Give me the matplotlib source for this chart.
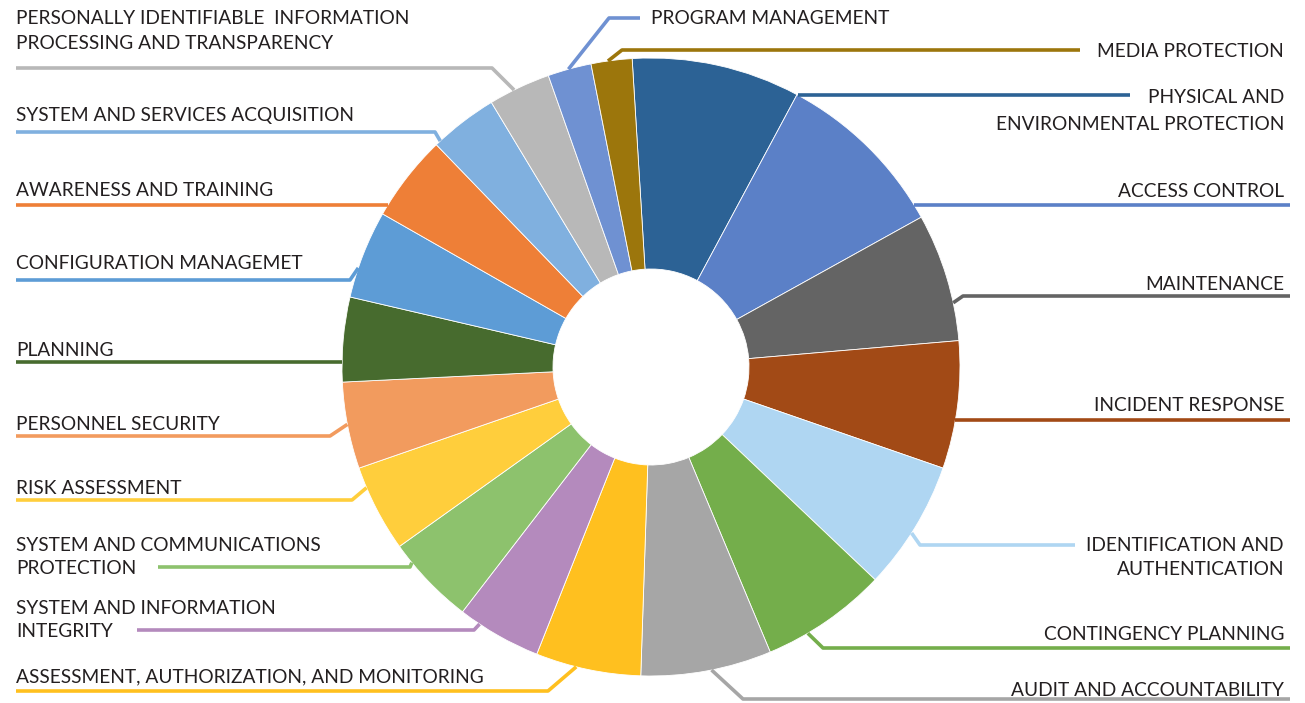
import numpy as np
import matplotlib
matplotlib.use("Agg")
import matplotlib.pyplot as plt

plt.rcParams['font.family'] = ['Lato', 'DejaVu Sans']

# slices, clockwise from the top
families = ["PE", "AC", "MA", "IR", "IA", "CP", "AU", "CA", "SI", "SC",
            "RA", "PS", "PL", "CM", "AT", "SA", "PT", "PM", "MP"]
labels = [
    ["PHYSICAL AND", "ENVIRONMENTAL PROTECTION"],
    ["ACCESS CONTROL"],
    ["MAINTENANCE"],
    ["INCIDENT RESPONSE"],
    ["IDENTIFICATION AND", "AUTHENTICATION"],
    ["CONTINGENCY PLANNING"],
    ["AUDIT AND ACCOUNTABILITY"],
    ["ASSESSMENT, AUTHORIZATION, AND MONITORING"],
    ["SYSTEM AND INFORMATION", "INTEGRITY"],
    ["SYSTEM AND COMMUNICATIONS", "PROTECTION"],
    ["RISK ASSESSMENT"],
    ["PERSONNEL SECURITY"],
    ["PLANNING"],
    ["CONFIGURATION MANAGEMET"],
    ["AWARENESS AND TRAINING"],
    ["SYSTEM AND SERVICES ACQUISITION"],
    ["PERSONALLY IDENTIFIABLE  INFORMATION", "PROCESSING AND TRANSPARENCY"],
    ["PROGRAM MANAGEMENT"],
    ["MEDIA PROTECTION"],
]
sizes = [31.7, 32.8, 24.1, 24.0, 24.4, 23.8, 24.6, 19.8, 15.9, 16.9,
         16.4, 16.3, 15.9, 16.6, 16.3, 12.9, 11.7, 8.2, 7.7]
colors = ["#2C6295", "#5B80C7", "#646464", "#A24A16", "#AFD6F2", "#74AE4B",
          "#A6A6A6", "#FFC01F", "#B48ABD", "#8DC26D", "#FFCE3C", "#F29B5E",
          "#476B2E", "#5D9CD6", "#EE7F37", "#80B0DF", "#B8B8B8", "#6F91D2",
          "#9C760C"]

# label layout in pixels: text x, first-line y, align, line gap,
# attach bearing on the ring (None = horizontal hit), leader path
layout = {
    "PE": (1284, 96, "right", 27, None, [(1130, 95)]),
    "AC": (1284, 190, "right", 24, None, [(1290, 205)]),
    "MA": (1284, 283, "right", 24, 78, [(963, 296), (1290, 296)]),
    "IR": (1284, 404, "right", 24, None, [(1290, 420)]),
    "IA": (1284, 544, "right", 24, 122.5, [(920, 545), (1075, 545)]),
    "CP": (1284, 633, "right", 24, 149.5, [(823, 648), (1290, 648)]),
    "AU": (1284, 689, "right", 24, 168.7, [(743, 699), (1290, 699)]),
    "CA": (16, 675, "left", 24, 194, [(548, 691), (16, 691)]),
    "SI": (16, 607, "left", 23, 213.7, [(474, 630), (137, 630)]),
    "SC": (16, 544, "left", 23, 230.7, [(410, 567), (158, 567)]),
    "RA": (16, 487, "left", 24, 247, [(352, 500), (16, 500)]),
    "PS": (16, 423, "left", 24, 259.3, [(330, 436), (16, 436)]),
    "PL": (16, 349, "left", 24, None, [(16, 362)]),
    "CM": (16, 262, "left", 24, 288.7, [(350, 280), (16, 280)]),
    "AT": (16, 189, "left", 24, None, [(16, 205)]),
    "SA": (16, 114, "left", 24, 317, [(435, 132), (16, 132)]),
    "PT": (16, 17, "left", 25, 333.7, [(492, 68), (16, 68)]),
    "PM": (651, 17, "left", 24, 344.5, [(609, 18), (640, 18)]),
    "MP": (1284, 50, "right", 24, 352, [(622, 50), (1080, 50)]),
}

cx, cy = 651, 367
R, r_in = 309, 98

fig = plt.figure(figsize=(13.05, 7.03), dpi=100)
ax = fig.add_axes([0, 0, 1, 1])

# y axis is inverted below, so counterclockwise in data = clockwise on screen
ax.pie(sizes, colors=colors, startangle=-93.5, counterclock=True,
       radius=R, center=(cx, cy),
       wedgeprops=dict(width=R - r_in, edgecolor="white", linewidth=0.6))

for fam, lab, col in zip(families, labels, colors):
    tx, ty, ha, gap, att, path = layout[fam]
    if att is None:
        y0 = path[0][1]
        side = 1 if path[-1][0] > cx else -1
        x0 = cx + side * np.sqrt(R**2 - (y0 - cy)**2)
    else:
        b = np.radians(att)
        x0 = cx + R * np.sin(b)
        y0 = cy - R * np.cos(b)
    xs = [x0] + [p[0] for p in path]
    ys = [y0] + [p[1] for p in path]
    ax.plot(xs, ys, color=col, lw=2.6, solid_capstyle="butt", zorder=1)
    for i, line in enumerate(lab):
        ax.text(tx, ty + 1.5 + i * gap, line, ha=ha, va="center",
                fontsize=13.8, color="#231F20")

ax.set_xlim(0, 1305)
ax.set_ylim(703, 0)
ax.set_aspect("auto")
ax.axis("off")

fig.savefig("out.png", dpi=100, facecolor="white")
